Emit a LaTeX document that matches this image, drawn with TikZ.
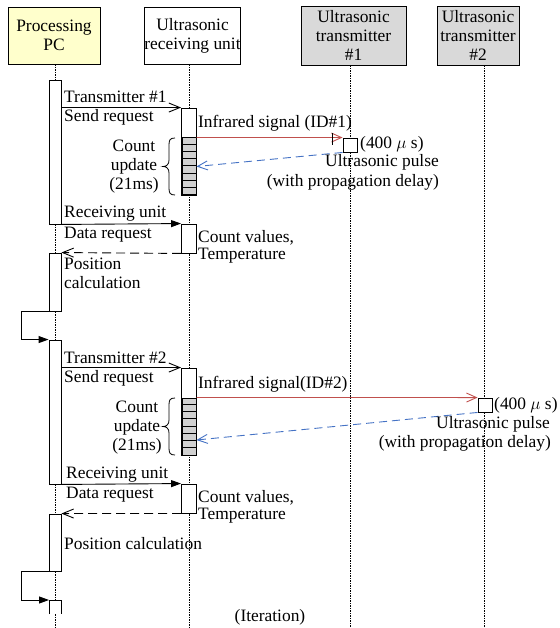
\documentclass[tikz,border=0pt]{standalone}
\usepackage{fontspec}
\setmainfont{Liberation Serif}
\usetikzlibrary{arrows.meta}
\definecolor{hdryellow}{HTML}{FFFFCC}
\definecolor{hdrgray}{HTML}{D9D9D9}
\definecolor{irred}{HTML}{C0504D}
\definecolor{usblue}{HTML}{4472C4}
\definecolor{cellgray}{HTML}{D0D0D0}
\newcommand\txtfont{\fontsize{17.4}{18.8}\selectfont}
\tikzset{
  hdr/.style={draw, line width=0.9pt, inner sep=0pt, align=center, font=\txtfont},
  lbl/.style={inner sep=0pt, font=\txtfont},
  act/.style={draw, fill=white, line width=0.9pt, inner sep=0pt, minimum width=#1},
  act/.default=12pt,
  countbox/.style={draw, fill=cellgray, line width=1pt, inner sep=0pt, minimum width=14pt},
  pulsebox/.style={draw, fill=white, line width=0.9pt, inner sep=0pt, minimum size=14pt},
  life/.style={line width=0.8pt, dash pattern=on 1.2pt off 1.3pt},
  msg/.style={line width=0.9pt, -{Straight Barb[length=11pt,width=9pt]}},
  call/.style={line width=0.9pt, -{Triangle[length=10pt,width=7pt]}},
  reply/.style={line width=0.9pt, dash pattern=on 9pt off 5pt, -{Straight Barb[length=11pt,width=9pt]}},
  irmsg/.style={draw=irred, line width=0.9pt, -{Straight Barb[length=10pt,width=9pt]}},
  usmsg/.style={draw=usblue, line width=0.9pt, dash pattern=on 8pt off 5pt, -{Straight Barb[length=10pt,width=9pt]}},
  bracestyle/.style={line width=0.8pt}
}
\begin{document}
\begin{tikzpicture}[x=1pt, y=-1pt]
\useasboundingbox (0,0) rectangle (559,628);

% header boxes
\node[hdr, fill=hdryellow, minimum width=92pt, minimum height=57pt] (pc) at (54,35.5) {Processing\\PC};
\node[hdr, fill=white, minimum width=95pt, minimum height=57pt] (rx) at (192.5,35.5) {Ultrasonic\\receiving unit};
\node[hdr, fill=hdrgray, minimum width=105pt, minimum height=59pt] (ta) at (353.5,35.5) {Ultrasonic\\transmitter\\\#1};
\node[hdr, fill=hdrgray, minimum width=82pt, minimum height=59pt] (tb) at (478,35.5) {Ultrasonic\\transmitter\\\#2};

% lifelines
\coordinate (pcend) at (55,628);
\coordinate (rxend) at (189,628);
\coordinate (taend) at (350,628);
\coordinate (tbend) at (484,628);
\draw[life] (pc.south -| pcend) -- (pcend);
\draw[life] (rx.south -| rxend) -- (rxend);
\draw[life] (ta.south -| taend) -- (taend);
\draw[life] (tb.south -| tbend) -- (tbend);

% activation boxes of the processing PC
\node[act, minimum height=144pt] (pc1) at (55,152) {};
\node[act, minimum height=58pt] (pc2) at (55,282) {};
\node[act, minimum height=144pt] (pc3) at (55,412) {};
\node[act, minimum height=57pt] (pc4) at (55,542.5) {};
\coordinate (pc5a) at (49,614);
\coordinate (pc5b) at (49,600);
\coordinate (pc5c) at (61,600);
\coordinate (pc5d) at (61,614);
\fill[white] (pc5a) rectangle (pc5c);
\draw[line width=0.9pt] (pc5a) -- (pc5b) -- (pc5c) -- (pc5d);

% activation boxes of the receiving unit
\node[act=15pt, minimum height=87pt] (rx1) at (189,151.5) {};
\node[countbox, minimum height=57pt] (s1) at (189,166.5) {};
\foreach \i in {1,...,7}
  \draw[line width=1pt] ([yshift=-\i*7.125pt]s1.north west) -- ([yshift=-\i*7.125pt]s1.north east);
\node[act=15pt, minimum height=29pt] (rx2) at (189,238.5) {};
\node[act=15pt, minimum height=87pt] (rx3) at (189,411.5) {};
\node[countbox, minimum height=57pt] (s3) at (189,426.5) {};
\foreach \i in {1,...,7}
  \draw[line width=1pt] ([yshift=-\i*7.125pt]s3.north west) -- ([yshift=-\i*7.125pt]s3.north east);
\node[act=15pt, minimum height=29pt] (rx4) at (189,498.5) {};

% ultrasonic pulse boxes
\node[pulsebox] (p1) at (350,145) {};
\node[pulsebox] (p2) at (485,405) {};

% ---- first cycle ----
\draw[msg] (pc1.east |- rx1.north) -- (rx1.north west);
\node[lbl, anchor=base west] (l1) at (64,103) {Transmitter \#1};
\node[lbl, anchor=base west] (l2) at (64,122) {Send request};

\draw[irmsg] (s1.north east) -- (p1.north west);
\draw[line width=0.9pt] (332,133) -- (332,145);
\node[lbl, anchor=base west] (l3) at (198,128) {Infrared signal (ID\#1)};
\node[lbl, anchor=base west] (l4) at (360,149) {(400 $\mu$ s)};

\draw[usmsg] (p1.south west) -- (s1.east);
\node[lbl, anchor=base east] (l5) at (439,167) {Ultrasonic pulse};
\node[lbl, anchor=base east] (l6) at (439,187) {(with propagation delay)};

\node[lbl, anchor=base] (l7) at (134,152) {Count};
\node[lbl, anchor=base] (l8) at (134,171) {update};
\node[lbl, anchor=base] (l9) at (134,190) {(21ms)};
\draw[bracestyle] (175,138) .. controls (170,138) and (169,140) .. (169,145) -- (169,160)
  .. controls (169,164) and (167,166.5) .. (163,166.5)
  .. controls (167,166.5) and (169,169) .. (169,173) -- (169,188)
  .. controls (169,193) and (170,195) .. (175,195);

\draw[call] (pc1.south east) -- (rx2.north west);
\node[lbl, anchor=base west] (l10) at (64,218) {Receiving unit};
\node[lbl, anchor=base west] (l11) at (64,238) {Data request};
\node[lbl, anchor=base west] (l12) at (198,242) {Count values,};
\node[lbl, anchor=base west] (l13) at (198,259) {Temperature};

\draw[reply] (rx2.south west) -- (pc2.north east);
\node[lbl, anchor=base west] (l14) at (64,269) {Position};
\node[lbl, anchor=base west] (l15) at (64,288) {calculation};

\draw[call] (pc2.south west) -- ++(-27,0) |- (pc3.north west);

% ---- second cycle ----
\draw[msg] (pc3.east |- rx3.north) -- (rx3.north west);
\node[lbl, anchor=base west] (m1) at (64,363) {Transmitter \#2};
\node[lbl, anchor=base west] (m2) at (64,382) {Send request};

\draw[irmsg] (s3.north east) -- (p2.north west);
\node[lbl, anchor=base west] (m3) at (198,388) {Infrared signal(ID\#2)};
\node[lbl, anchor=base west] (m4) at (494,409) {(400 $\mu$ s)};

\draw[usmsg] (p2.south west) -- ([yshift=-13.5pt]s3.east);
\node[lbl, anchor=base east] (m5) at (550,428) {Ultrasonic pulse};
\node[lbl, anchor=base east] (m6) at (551,447) {(with propagation delay)};

\node[lbl, anchor=base] (m7) at (137,412) {Count};
\node[lbl, anchor=base] (m8) at (137,431) {update};
\node[lbl, anchor=base] (m9) at (137,450) {(21ms)};
\draw[bracestyle] (175,398) .. controls (170,398) and (169,400) .. (169,405) -- (169,420)
  .. controls (169,424) and (167,426.5) .. (163,426.5)
  .. controls (167,426.5) and (169,429) .. (169,433) -- (169,448)
  .. controls (169,453) and (170,455) .. (175,455);

\draw[call] (pc3.south east) -- (rx4.north west);
\node[lbl, anchor=base west] (m10) at (66,478) {Receiving unit};
\node[lbl, anchor=base west] (m11) at (66,498) {Data request};
\node[lbl, anchor=base west] (m12) at (198,502) {Count values,};
\node[lbl, anchor=base west] (m13) at (198,519) {Temperature};

\draw[reply] (rx4.south west) -- (pc4.north east);
\node[lbl, anchor=base west] (m14) at (64,549) {Position calculation};

\draw[call] (pc4.south west) -- ++(-27,0) |- (pc5b);

\node[lbl, anchor=base] (iter) at (270,621) {(Iteration)};
\end{tikzpicture}
\end{document}
